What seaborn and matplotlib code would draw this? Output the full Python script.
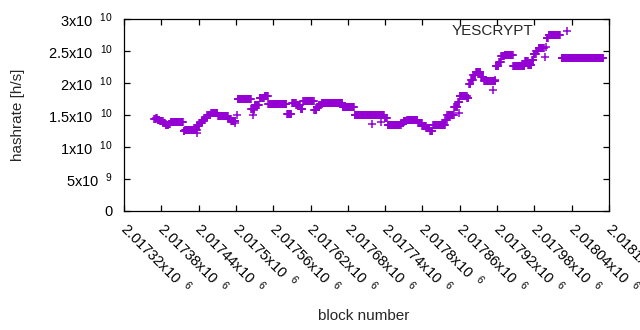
import numpy as np
import pandas as pd
import matplotlib
matplotlib.use("Agg")
import matplotlib.pyplot as plt
import matplotlib.transforms as mtransforms
import seaborn as sns

# hashrate plateaus: each run lasts until the next start (rate in 1e10 h/s, nan = gap)
run_start = [2017369, 2017372, 2017374, 2017378, 2017383, 2017387, 2017392, 2017395,
             2017416, 2017418, 2017438, 2017442, 2017446, 2017450, 2017454, 2017460,
             2017471, 2017488, 2017492, 2017500, 2017503, 2017525, 2017530, 2017538,
             2017546, 2017552, 2017582, 2017590, 2017597, 2017604, 2017608, 2017626,
             2017630, 2017634, 2017638, 2017642, 2017672, 2017691, 2017739, 2017744,
             2017766, 2017770, 2017775, 2017793, 2017800, 2017806, 2017812, 2017817,
             2017837, 2017840, 2017851, 2017857, 2017860, 2017872, 2017875, 2017878,
             2017882, 2017886, 2017894, 2017899, 2017918, 2017923, 2017927, 2017932,
             2017946, 2017965, 2017970, 2017976, 2017979, 2017983, 2017987, 2017996,
             2018000, 2018003, 2018022, 2018024]
run_rate = [1.44, 1.46, 1.42, 1.40, 1.37, 1.34, 1.36, 1.385,
            1.25, 1.265, 1.34, 1.37, 1.42, 1.46, 1.50, 1.525,
            1.485, 1.43, 1.40, np.nan, 1.745, 1.60, 1.66, 1.76,
            1.80, 1.665, 1.51, 1.69, 1.65, 1.60, 1.72, 1.58,
            1.62, 1.66, 1.68, 1.69, 1.63, 1.50, 1.46, 1.335,
            1.37, 1.40, 1.42, 1.38, 1.33, 1.29, 1.255, 1.34,
            1.42, 1.50, 1.63, 1.70, 1.79, 1.76, 1.99, 2.05,
            2.12, 2.17, 2.10, 2.04, 2.27, 2.33, 2.42, 2.44,
            2.26, 2.34, 2.29, 2.36, 2.46, 2.50, 2.55, np.nan,
            2.70, 2.76, np.nan, 2.39]
last_block = 2018091

# single scattered estimates
outlier_block = [2017437, 2017498, 2017501, 2017527, 2017529, 2017719, 2017734,
                 2017858, 2017913, 2017917, 2017997, 2017999]
outlier_rate = [1.21, 1.37, 1.50, 1.50, 1.58, 1.355, 1.395,
                1.53, 1.89, 2.05, 2.41, 2.57]

x_ticks = list(range(2017320, 2018101, 60))
x_labels = ["2.01732x10  $^{6}$", "2.01738x10  $^{6}$", "2.01744x10  $^{6}$", "2.0175x10  $^{6}$",
            "2.01756x10  $^{6}$", "2.01762x10  $^{6}$", "2.01768x10  $^{6}$", "2.01774x10  $^{6}$",
            "2.0178x10  $^{6}$", "2.01786x10  $^{6}$", "2.01792x10  $^{6}$", "2.01798x10  $^{6}$",
            "2.01804x10  $^{6}$", "2.0181x10  $^{6}$"]
y_ticks = [0, 5e9, 1e10, 1.5e10, 2e10, 2.5e10, 3e10]
y_labels = ["0", "5x10  $^{9}$", "1x10  $^{10}$", "1.5x10  $^{10}$", "2x10  $^{10}$",
            "2.5x10  $^{10}$", "3x10  $^{10}$"]

sns.set_style("ticks")
plt.rcParams['font.family'] = ['Liberation Sans', 'DejaVu Sans']
plt.rcParams['mathtext.fontset'] = 'custom'
plt.rcParams['mathtext.rm'] = 'Liberation Sans'
plt.rcParams['mathtext.default'] = 'regular'

bounds = run_start + [last_block + 1]
blocks, rates = [], []
for i, r in enumerate(run_rate):
    for b in range(bounds[i], bounds[i + 1]):
        blocks.append(b)
        rates.append(r)
blocks += outlier_block
rates += outlier_rate
df = pd.DataFrame({"block": blocks, "hashrate": np.array(rates) * 1e10}).dropna()

fig, ax = plt.subplots(figsize=(6.4, 3.3), dpi=100)
fig.subplots_adjust(left=124 / 640, right=609 / 640, bottom=1 - 210.6 / 330, top=1 - 19.3 / 330)

sns.scatterplot(data=df, x="block", y="hashrate", marker="+", s=30, color="#9400d3",
                linewidth=1.1, label="YESCRYPT", ax=ax)

ax.set_xlim(2017320, 2018100)
ax.set_ylim(0, 3e10)
ax.set_xticks(x_ticks)
ax.set_xticklabels(x_labels, rotation=-45, ha="left", va="top", rotation_mode="anchor")
ax.set_yticks(y_ticks)
ax.set_yticklabels(y_labels)
ax.tick_params(direction="in", top=True, right=True, length=4.5, width=0.9,
               labelsize=10.5, colors="black")
ax.tick_params(axis="x", pad=6)
ax.tick_params(axis="y", pad=8)
shift = mtransforms.ScaledTranslation(0.06, 0, fig.dpi_scale_trans)
for lbl in ax.get_xticklabels():
    lbl.set_transform(lbl.get_transform() + shift)
for s in ax.spines.values():
    s.set_visible(True)
    s.set_linewidth(0.9)
    s.set_color("black")

ax.set_xlabel("block number", fontsize=11)
ax.set_ylabel("hashrate [h/s]", fontsize=11)
ax.xaxis.set_label_coords(0.495, -0.515)
ax.yaxis.set_label_coords(-0.204, 0.5)

ax.legend(loc="upper right", bbox_to_anchor=(0.944, 0.975), frameon=False, markerfirst=False,
          borderpad=0, borderaxespad=0, handletextpad=1.2, fontsize=11)

fig.savefig("out.png", dpi=100)
